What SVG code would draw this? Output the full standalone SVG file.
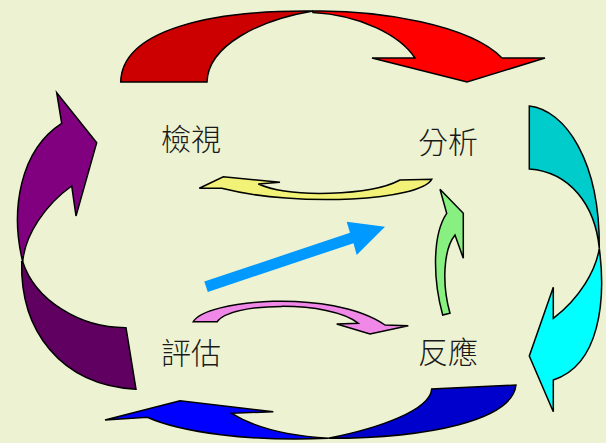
<svg xmlns="http://www.w3.org/2000/svg" width="606" height="443" viewBox="0 0 606 443">
<style>
.s{stroke:#000;stroke-width:1.5;stroke-linejoin:miter}
.t{font-family:"Noto Sans CJK TC","Noto Sans CJK SC",sans-serif;font-size:30px;font-weight:300;fill:#1a1a1a}
</style>
<rect width="606" height="443" fill="#EDF2D2"/>
<g id="connectors">
  <g id="red-arrow">
    <path class="s" fill="#CC0000" d="M120.7,82 C122,30 210,10 313,11 C260,20 208,45 207,82 Z"/>
    <path class="s" fill="#FF0000" d="M313,11 C380,10 470,25 502,58 L545,58 L467,82 L372,58 L415,58 C400,35 360,15 313,12.5 Z"/>
  </g>
  <g id="cyan-arrow">
    <path class="s" fill="#00CCCC" d="M529.3,106 C565,110 600,160 599.3,248.3 C595,205 570,172 529.3,169 Z"/>
    <path class="s" fill="#00FFFF" d="M599.3,248.3 C606,300 600,365 553.3,380 L553.3,411.7 L529.3,356 L553.3,287.3 L553.3,318.3 C580,298 596,270 599.3,248.3 Z"/>
  </g>
  <g id="blue-arrow">
    <path class="s" fill="#0000CC" d="M516,385 C512,420 430,438 328.3,438.3 C380,428 430,410 431.7,389 Z"/>
    <path class="s" fill="#0000FF" d="M328.3,438.3 C250,442 180,432 147.3,417.3 L105,420 L180,400.7 L273.3,411.7 L231.7,413.3 C255,428 290,436 328.3,438.3 Z"/>
  </g>
  <g id="purple-arrow">
    <path class="s" fill="#600060" d="M21.7,261.7 C20,330 60,385 136,389.3 L126,327.7 C80,328 35,300 22.7,261.7 Z"/>
    <path class="s" fill="#800080" d="M56.7,92.7 L96.7,142.7 L76,216 L71.7,186 C45,205 25,235 22.7,261.7 C10,210 20,150 61.7,123.3 Z"/>
  </g>
  <g id="yellow-arrow">
    <path class="s" fill="#F2F278" d="M199.3,188.3 L223.3,176.7 L280,182.3 L258.3,184 C290,198 370,196 400,180 L431.7,179.3 C420,200 300,208 221.7,188.3 Z"/>
  </g>
  <g id="pink-arrow">
    <path class="s" fill="#F088E8" d="M193.3,321.7 C205,300 330,288 385,325 L408.3,325.7 L370,334 L336.7,324 L358.3,323.3 C330,300 230,302 217.3,321.7 Z"/>
  </g>
  <g id="green-arrow">
    <path class="s" fill="#88F080" d="M440,189.3 L463.3,213.3 L463.3,258.3 L455,235 C443,250 442,285 450,313.3 L442.7,315 C433,280 432,235 446.7,213.3 Z"/>
  </g>
  <g id="straight-arrow">
    <path fill="#0099FF" d="M204.3,281.5 L350,232.8 L346.7,221.7 L385,226.7 L356.7,255 L353.5,243.2 L207.8,291.9 Z"/>
  </g>
</g>
<g id="node-review"><text class="t" x="161" y="150">檢視</text></g>
<g id="node-analysis"><text class="t" x="418" y="153">分析</text></g>
<g id="node-evaluate"><text class="t" x="161" y="364">評估</text></g>
<g id="node-respond"><text class="t" x="418" y="363">反應</text></g>
</svg>
